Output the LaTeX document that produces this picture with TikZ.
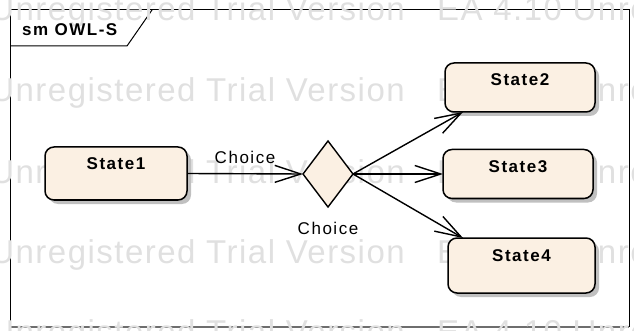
\documentclass[tikz,border=0pt]{standalone}
\usepackage{fontspec}
\setmainfont{Liberation Sans}
\newfontfamily\lblfont{Liberation Sans}[LetterSpace=9]
\newfontfamily\wmfont{Liberation Sans}[LetterSpace=4.5]
\usetikzlibrary{arrows.meta,shapes.geometric,shadows,calc}

\definecolor{statefill}{RGB}{251,240,227}
\definecolor{wmgray}{RGB}{224,224,224}
\definecolor{shadowgray}{RGB}{192,192,192}
\definecolor{framegray}{RGB}{110,110,110}

\begin{document}
\begin{tikzpicture}[x=1pt,y=-1pt,
  lbl/.style={font=\lblfont\fontsize{17}{20}\selectfont, inner sep=0pt},
  boldlbl/.style={font=\lblfont\bfseries\fontsize{17}{20}\selectfont, inner sep=0pt},
  wmark/.style={font=\wmfont\fontsize{33}{36}\selectfont, text=wmgray, inner sep=0pt},
  statebox/.style={draw, line width=1.5pt, rounded corners=9pt, fill=statefill,
    inner xsep=0pt, inner ysep=11pt, text height=12pt, outer sep=0pt,
    font=\lblfont\bfseries\fontsize{17}{20}\selectfont,
    drop shadow={shadow xshift=4pt, shadow yshift=-4pt, fill=shadowgray, opacity=1}},
  choicebox/.style={draw, diamond, line width=1.4pt, fill=statefill,
    minimum width=50pt, minimum height=66pt, inner sep=0pt, outer sep=0pt},
  conn/.style={line width=1.4pt, -{Straight Barb[length=26pt, width=17pt, line width=1.4pt]}}
]
\useasboundingbox (0,0) rectangle (634,331);

% diagram frame with its name tab
\draw[line width=1pt] (10,327) -- (10,10) -- (629,10) -- (629,327);
\draw[line width=1.6pt, framegray] (10,327) -- (629,327);
\draw[line width=1pt] (10,46) -- (127,46) -- (152,10);

% trial-version watermark rows
\foreach \b [count=\i] in {21,102,183,263,343} {
  \node[wmark, anchor=base east] (wmu\i) at (405,\b) {Unregistered Trial Version};
  \node[wmark, anchor=base west] (wme\i) at (437,\b) {EA 4.10 Unre};
}

\node[boldlbl, anchor=base west] (tab) at (22,36) {sm OWL-S};

% states
\node[statebox, minimum width=142pt, text depth=19pt] (s1) at (116,173.5) {State1};
\node[statebox, minimum width=150pt, text depth=15pt] (s2) at (520,87.5) {State2};
\node[statebox, minimum width=150pt, text depth=15pt] (s3) at (518,174) {State3};
\node[statebox, minimum width=147pt, text depth=21pt] (s4) at (521.5,265.5) {State4};

% choice pseudostate
\node[choicebox] (d) at (328,174) {};
\node[lbl, anchor=base] (dl) at ($(d.south)+(0,27)$) {Choice};

% transitions
\draw[conn] (s1.east) -- (d.west)
  node[lbl, pos=0.5, anchor=base, yshift=10pt] (c1) {Choice};
\draw[conn] (d.east) -- ($(s2.south west)+(18,0)$);
\draw[conn] (d.east) -- (s3.west);
\draw[conn] (d.east) -- ($(s4.north west)+(15,0)$);
\end{tikzpicture}
\end{document}
